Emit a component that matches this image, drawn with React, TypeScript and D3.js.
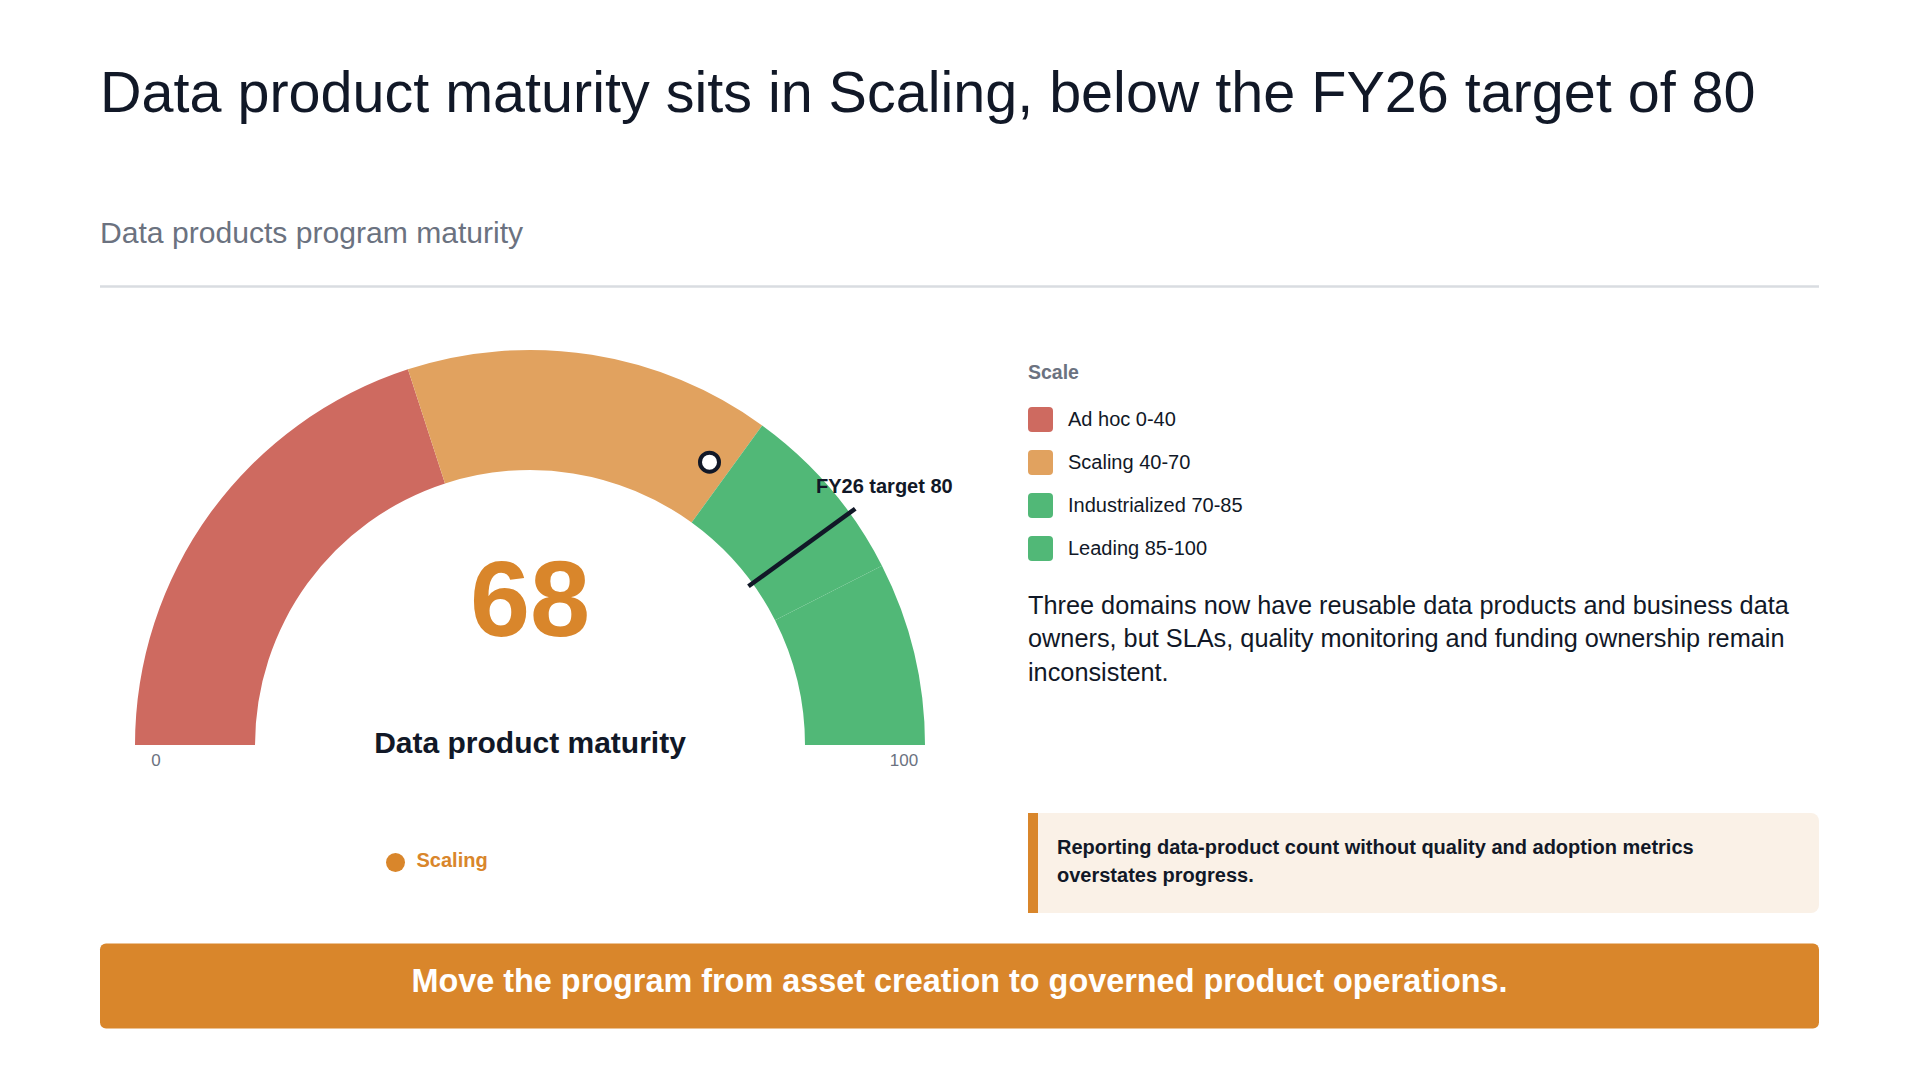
/**
 * Data product maturity gauge
 */
import React, { useEffect, useRef } from 'react'
import * as d3 from 'd3'

// data
const bandNames = ['Ad hoc', 'Scaling', 'Industrialized', 'Leading']
const bandStarts = [0, 40, 70, 85]
const bandEnds = [40, 70, 85, 100]
const scaleTicks = [0, 100]
const currentValue = 68
const targetValue = 80
const targetLabel = 'FY26 target 80'
const currentBand = 'Scaling'
const metricName = 'Data product maturity'

const titleText = 'Data product maturity sits in Scaling, below the FY26 target of 80'
const subtitleText = 'Data products program maturity'
const noteLines = [
  'Three domains now have reusable data products and business data',
  'owners, but SLAs, quality monitoring and funding ownership remain',
  'inconsistent.',
]
const riskLines = [
  'Reporting data-product count without quality and adoption metrics',
  'overstates progress.',
]
const actionText = 'Move the program from asset creation to governed product operations.'

// styles
const bandColors = ['#ce6a60', '#e1a25f', '#51b877', '#51b877']
const accent = '#d9862b'
const ink = '#111827'
const muted = '#6b7280'
const FONT = '"Liberation Sans", Arial, Helvetica, sans-serif'

const W = 1919
const H = 1080

const App = () => {
  const refSvg = useRef<SVGSVGElement | null>(null)

  const draw = () => {
    const svg = d3.select(refSvg.current)
    svg.selectAll('*').remove()
    svg.attr('width', W).attr('height', H).style('font-family', FONT)

    svg.append('rect').attr('width', W).attr('height', H).attr('fill', '#ffffff')

    // header
    svg.append('text').attr('x', 100).attr('y', 112)
      .attr('font-size', 57.5).attr('fill', ink).text(titleText)
    svg.append('text').attr('x', 100).attr('y', 243)
      .attr('font-size', 30.1).attr('fill', muted).text(subtitleText)
    svg.append('line').attr('x1', 100).attr('x2', 1819).attr('y1', 286.5).attr('y2', 286.5)
      .attr('stroke', '#d9dce1').attr('stroke-width', 2.5)

    // gauge
    const cx = 530
    const cy = 745
    const outerR = 395
    const innerR = 275
    const angle = d3.scaleLinear().domain([0, 100]).range([-Math.PI / 2, Math.PI / 2])
    const g = svg.append('g').attr('transform', `translate(${cx},${cy})`)
    const arc = d3.arc<{ a: number; b: number }>()
      .innerRadius(innerR).outerRadius(outerR)
      .startAngle((d) => angle(d.a)).endAngle((d) => angle(d.b))

    g.selectAll('.band')
      .data(bandNames.map((n, i) => ({ n, a: bandStarts[i], b: bandEnds[i], c: bandColors[i] })))
      .enter()
      .append('path')
      .attr('class', 'band')
      .attr('d', (d) => arc(d) as string)
      .attr('fill', (d) => d.c)

    const polar = (v: number, r: number) => {
      const t = angle(v)
      return [r * Math.sin(t), -r * Math.cos(t)]
    }

    // target tick
    const [tx1, ty1] = polar(targetValue, innerR - 5)
    const [tx2, ty2] = polar(targetValue, outerR + 7)
    g.append('line').attr('x1', tx1).attr('y1', ty1).attr('x2', tx2).attr('y2', ty2)
      .attr('stroke', ink).attr('stroke-width', 4.5)
    const [lx, ly] = polar(targetValue, outerR + 43)
    g.append('text').attr('x', lx).attr('y', ly + 5).attr('text-anchor', 'middle')
      .attr('font-size', 20).attr('font-weight', 700).attr('fill', ink).text(targetLabel)

    // current value marker
    const [mx, my] = polar(currentValue, (innerR + outerR) / 2)
    g.append('circle').attr('cx', mx).attr('cy', my).attr('r', 9.5)
      .attr('fill', '#ffffff').attr('stroke', ink).attr('stroke-width', 4)

    // centre labels
    g.append('text').attr('x', 0).attr('y', 636 - cy).attr('text-anchor', 'middle')
      .attr('font-size', 108).attr('font-weight', 700).attr('fill', accent).text(String(currentValue))
    g.append('text').attr('x', 0).attr('y', 753 - cy).attr('text-anchor', 'middle')
      .attr('font-size', 30).attr('font-weight', 700).attr('fill', ink).text(metricName)

    // ends
    g.selectAll('.tick')
      .data(scaleTicks)
      .enter()
      .append('text')
      .attr('class', 'tick')
      .attr('x', (d) => polar(d, outerR - 21)[0])
      .attr('y', 766 - cy)
      .attr('text-anchor', 'middle')
      .attr('font-size', 17)
      .attr('fill', muted)
      .text((d) => String(d))

    // current band chip
    svg.append('circle').attr('cx', 395.5).attr('cy', 862.5).attr('r', 9.5).attr('fill', accent)
    svg.append('text').attr('x', 416.5).attr('y', 866.5)
      .attr('font-size', 20).attr('font-weight', 700).attr('fill', accent).text(currentBand)

    // legend
    const lg = svg.append('g').attr('transform', 'translate(1028,0)')
    lg.append('text').attr('x', 0).attr('y', 379)
      .attr('font-size', 19.5).attr('font-weight', 700).attr('fill', muted).text('Scale')
    const rows = lg.selectAll('.row')
      .data(bandNames.map((n, i) => ({ n, a: bandStarts[i], b: bandEnds[i], c: bandColors[i] })))
      .enter()
      .append('g')
      .attr('class', 'row')
      .attr('transform', (_, i) => `translate(0,${407 + i * 43})`)
    rows.append('rect').attr('width', 25).attr('height', 25).attr('rx', 4).attr('fill', (d) => d.c)
    rows.append('text').attr('x', 40).attr('y', 19)
      .attr('font-size', 20).attr('fill', ink).text((d) => `${d.n} ${d.a}-${d.b}`)

    // note
    const note = svg.append('text').attr('font-size', 25.3).attr('fill', ink)
    noteLines.forEach((line, i) => {
      note.append('tspan').attr('x', 1028).attr('y', 613.5 + i * 33.6).text(line)
    })

    // risk callout
    svg.append('rect').attr('x', 1028).attr('y', 813).attr('width', 791).attr('height', 100)
      .attr('rx', 8).attr('fill', '#faf1e7')
    svg.append('rect').attr('x', 1028).attr('y', 813).attr('width', 10).attr('height', 100)
      .attr('fill', accent)
    const risk = svg.append('text').attr('font-size', 20).attr('font-weight', 700).attr('fill', ink)
    riskLines.forEach((line, i) => {
      risk.append('tspan').attr('x', 1057).attr('y', 854 + i * 28).text(line)
    })

    // action banner
    svg.append('rect').attr('x', 100).attr('y', 943.5).attr('width', 1719).attr('height', 85)
      .attr('rx', 6).attr('fill', accent)
    svg.append('text').attr('x', 959.5).attr('y', 992).attr('text-anchor', 'middle')
      .attr('font-size', 32.4).attr('font-weight', 700).attr('fill', '#ffffff').text(actionText)
  }

  useEffect(() => {
    if (refSvg.current) {
      draw()
    }
  })

  return <svg ref={refSvg} style={{ position: 'absolute', left: 0, top: 0, display: 'block' }} />
}

export default App
